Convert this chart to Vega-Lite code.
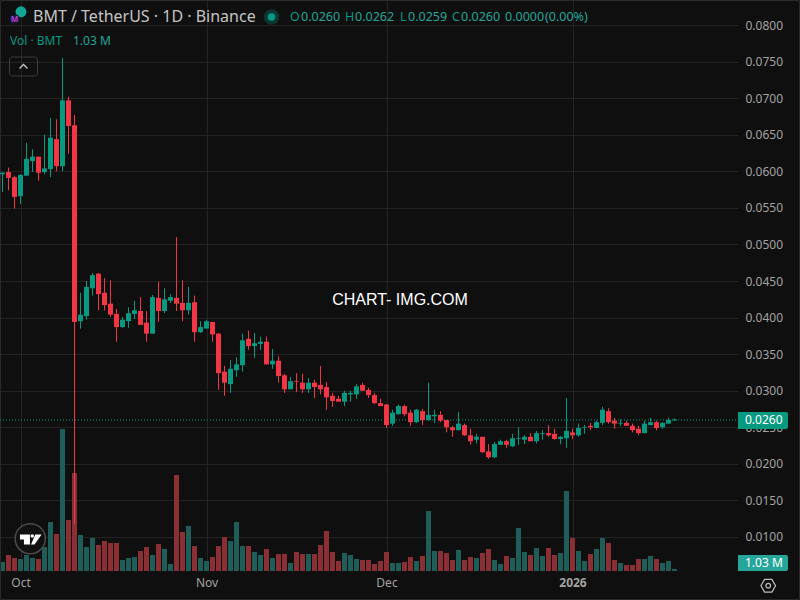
{
  "$schema": "https://vega.github.io/schema/vega-lite/v6.json",
  "description": "BMT / TetherUS daily candlesticks with volume",
  "width": 738,
  "height": 571,
  "autosize": {"type": "none"},
  "padding": {"left": 0, "top": 0, "right": 62, "bottom": 29},
  "background": "#0f0f0f",
  "config": {"view": {"stroke": null}, "text": {"font": "Noto Sans"}},
  "datasets": {
    "candles": [
      {"date":"2025-09-28","o":0.0596,"h":0.0599,"l":0.0572,"c":0.0598,"v":4.5},
      {"date":"2025-09-29","o":0.0599,"h":0.0605,"l":0.0574,"c":0.0591,"v":8},
      {"date":"2025-09-30","o":0.0592,"h":0.0594,"l":0.0549,"c":0.0565,"v":6.5},
      {"date":"2025-10-01","o":0.0566,"h":0.0596,"l":0.0555,"c":0.0595,"v":6},
      {"date":"2025-10-02","o":0.0594,"h":0.0639,"l":0.0594,"c":0.0617,"v":8},
      {"date":"2025-10-03","o":0.0614,"h":0.0630,"l":0.0599,"c":0.0620,"v":6.5},
      {"date":"2025-10-04","o":0.0620,"h":0.0620,"l":0.0587,"c":0.0598,"v":6},
      {"date":"2025-10-05","o":0.0599,"h":0.0650,"l":0.0596,"c":0.0604,"v":12},
      {"date":"2025-10-06","o":0.0603,"h":0.0673,"l":0.0592,"c":0.0646,"v":24.5},
      {"date":"2025-10-07","o":0.0644,"h":0.0671,"l":0.0600,"c":0.0607,"v":18.5},
      {"date":"2025-10-08","o":0.0607,"h":0.0755,"l":0.0600,"c":0.0697,"v":71},
      {"date":"2025-10-09","o":0.0697,"h":0.0702,"l":0.0624,"c":0.0662,"v":25.5},
      {"date":"2025-10-10","o":0.0663,"h":0.0677,"l":0.0118,"c":0.0394,"v":49},
      {"date":"2025-10-11","o":0.0395,"h":0.0434,"l":0.0385,"c":0.0404,"v":18},
      {"date":"2025-10-12","o":0.0402,"h":0.0450,"l":0.0397,"c":0.0442,"v":12},
      {"date":"2025-10-13","o":0.0440,"h":0.0461,"l":0.0430,"c":0.0458,"v":16.5},
      {"date":"2025-10-14","o":0.0460,"h":0.0461,"l":0.0410,"c":0.0432,"v":13},
      {"date":"2025-10-15","o":0.0434,"h":0.0454,"l":0.0410,"c":0.0417,"v":15},
      {"date":"2025-10-16","o":0.0419,"h":0.0451,"l":0.0401,"c":0.0404,"v":14},
      {"date":"2025-10-17","o":0.0405,"h":0.0412,"l":0.0367,"c":0.0387,"v":14},
      {"date":"2025-10-18","o":0.0387,"h":0.0401,"l":0.0386,"c":0.0397,"v":5.5},
      {"date":"2025-10-19","o":0.0395,"h":0.0414,"l":0.0386,"c":0.0406,"v":6.5},
      {"date":"2025-10-20","o":0.0405,"h":0.0423,"l":0.0398,"c":0.0410,"v":7},
      {"date":"2025-10-21","o":0.0409,"h":0.0428,"l":0.0390,"c":0.0390,"v":10},
      {"date":"2025-10-22","o":0.0393,"h":0.0409,"l":0.0367,"c":0.0378,"v":12},
      {"date":"2025-10-23","o":0.0378,"h":0.0431,"l":0.0378,"c":0.0428,"v":8},
      {"date":"2025-10-24","o":0.0427,"h":0.0449,"l":0.0394,"c":0.0409,"v":13.5},
      {"date":"2025-10-25","o":0.0409,"h":0.0440,"l":0.0406,"c":0.0425,"v":11},
      {"date":"2025-10-26","o":0.0423,"h":0.0432,"l":0.0420,"c":0.0428,"v":3.5},
      {"date":"2025-10-27","o":0.0427,"h":0.0510,"l":0.0409,"c":0.0419,"v":48},
      {"date":"2025-10-28","o":0.0420,"h":0.0451,"l":0.0395,"c":0.0410,"v":19.5},
      {"date":"2025-10-29","o":0.0410,"h":0.0442,"l":0.0404,"c":0.0420,"v":22.5},
      {"date":"2025-10-30","o":0.0421,"h":0.0430,"l":0.0367,"c":0.0380,"v":12.5},
      {"date":"2025-10-31","o":0.0380,"h":0.0395,"l":0.0379,"c":0.0387,"v":6.5},
      {"date":"2025-11-01","o":0.0385,"h":0.0397,"l":0.0385,"c":0.0395,"v":5},
      {"date":"2025-11-02","o":0.0394,"h":0.0394,"l":0.0367,"c":0.0377,"v":7},
      {"date":"2025-11-03","o":0.0378,"h":0.0379,"l":0.0301,"c":0.0324,"v":12.5},
      {"date":"2025-11-04","o":0.0326,"h":0.0334,"l":0.0293,"c":0.0311,"v":17},
      {"date":"2025-11-05","o":0.0309,"h":0.0342,"l":0.0297,"c":0.0330,"v":15},
      {"date":"2025-11-06","o":0.0328,"h":0.0346,"l":0.0319,"c":0.0336,"v":24.5},
      {"date":"2025-11-07","o":0.0335,"h":0.0378,"l":0.0326,"c":0.0369,"v":12.5},
      {"date":"2025-11-08","o":0.0371,"h":0.0382,"l":0.0356,"c":0.0361,"v":12.5},
      {"date":"2025-11-09","o":0.0361,"h":0.0379,"l":0.0345,"c":0.0365,"v":9.5},
      {"date":"2025-11-10","o":0.0364,"h":0.0374,"l":0.0356,"c":0.0367,"v":8},
      {"date":"2025-11-11","o":0.0367,"h":0.0374,"l":0.0336,"c":0.0336,"v":11},
      {"date":"2025-11-12","o":0.0336,"h":0.0357,"l":0.0330,"c":0.0341,"v":6.5},
      {"date":"2025-11-13","o":0.0341,"h":0.0347,"l":0.0311,"c":0.0320,"v":8.5},
      {"date":"2025-11-14","o":0.0321,"h":0.0323,"l":0.0297,"c":0.0302,"v":8.5},
      {"date":"2025-11-15","o":0.0302,"h":0.0319,"l":0.0302,"c":0.0313,"v":4},
      {"date":"2025-11-16","o":0.0313,"h":0.0324,"l":0.0298,"c":0.0312,"v":9.5},
      {"date":"2025-11-17","o":0.0311,"h":0.0323,"l":0.0297,"c":0.0302,"v":8.5},
      {"date":"2025-11-18","o":0.0302,"h":0.0317,"l":0.0297,"c":0.0311,"v":8.5},
      {"date":"2025-11-19","o":0.0311,"h":0.0315,"l":0.0290,"c":0.0305,"v":8.5},
      {"date":"2025-11-20","o":0.0308,"h":0.0334,"l":0.0295,"c":0.0302,"v":13},
      {"date":"2025-11-21","o":0.0305,"h":0.0312,"l":0.0274,"c":0.0291,"v":20},
      {"date":"2025-11-22","o":0.0293,"h":0.0297,"l":0.0278,"c":0.0286,"v":9.5},
      {"date":"2025-11-23","o":0.0289,"h":0.0293,"l":0.0285,"c":0.0285,"v":5},
      {"date":"2025-11-24","o":0.0285,"h":0.0300,"l":0.0279,"c":0.0297,"v":9},
      {"date":"2025-11-25","o":0.0295,"h":0.0300,"l":0.0285,"c":0.0297,"v":8},
      {"date":"2025-11-26","o":0.0295,"h":0.0309,"l":0.0289,"c":0.0306,"v":6},
      {"date":"2025-11-27","o":0.0308,"h":0.0311,"l":0.0300,"c":0.0300,"v":5.5},
      {"date":"2025-11-28","o":0.0301,"h":0.0304,"l":0.0290,"c":0.0294,"v":5.5},
      {"date":"2025-11-29","o":0.0294,"h":0.0297,"l":0.0282,"c":0.0283,"v":3.5},
      {"date":"2025-11-30","o":0.0283,"h":0.0289,"l":0.0279,"c":0.0279,"v":5},
      {"date":"2025-12-01","o":0.0281,"h":0.0282,"l":0.0249,"c":0.0253,"v":9.5},
      {"date":"2025-12-02","o":0.0255,"h":0.0274,"l":0.0252,"c":0.0270,"v":4},
      {"date":"2025-12-03","o":0.0268,"h":0.0281,"l":0.0267,"c":0.0279,"v":4},
      {"date":"2025-12-04","o":0.0279,"h":0.0281,"l":0.0265,"c":0.0268,"v":4.5},
      {"date":"2025-12-05","o":0.0270,"h":0.0274,"l":0.0252,"c":0.0257,"v":7},
      {"date":"2025-12-06","o":0.0257,"h":0.0275,"l":0.0256,"c":0.0274,"v":5},
      {"date":"2025-12-07","o":0.0272,"h":0.0275,"l":0.0253,"c":0.0260,"v":7.5},
      {"date":"2025-12-08","o":0.0260,"h":0.0311,"l":0.0259,"c":0.0267,"v":30},
      {"date":"2025-12-09","o":0.0265,"h":0.0274,"l":0.0256,"c":0.0267,"v":10},
      {"date":"2025-12-10","o":0.0267,"h":0.0272,"l":0.0257,"c":0.0259,"v":10},
      {"date":"2025-12-11","o":0.0260,"h":0.0260,"l":0.0243,"c":0.0250,"v":9},
      {"date":"2025-12-12","o":0.0250,"h":0.0252,"l":0.0237,"c":0.0246,"v":5.5},
      {"date":"2025-12-13","o":0.0246,"h":0.0271,"l":0.0246,"c":0.0255,"v":10.5},
      {"date":"2025-12-14","o":0.0253,"h":0.0255,"l":0.0238,"c":0.0239,"v":5.5},
      {"date":"2025-12-15","o":0.0239,"h":0.0248,"l":0.0226,"c":0.0231,"v":7},
      {"date":"2025-12-16","o":0.0233,"h":0.0241,"l":0.0228,"c":0.0237,"v":6.5},
      {"date":"2025-12-17","o":0.0237,"h":0.0237,"l":0.0215,"c":0.0216,"v":9},
      {"date":"2025-12-18","o":0.0217,"h":0.0227,"l":0.0207,"c":0.0209,"v":11},
      {"date":"2025-12-19","o":0.0209,"h":0.0230,"l":0.0208,"c":0.0227,"v":5.5},
      {"date":"2025-12-20","o":0.0226,"h":0.0233,"l":0.0226,"c":0.0231,"v":3.5},
      {"date":"2025-12-21","o":0.0231,"h":0.0233,"l":0.0222,"c":0.0226,"v":7.5},
      {"date":"2025-12-22","o":0.0224,"h":0.0241,"l":0.0223,"c":0.0235,"v":6.5},
      {"date":"2025-12-23","o":0.0234,"h":0.0250,"l":0.0226,"c":0.0235,"v":21.5},
      {"date":"2025-12-24","o":0.0233,"h":0.0239,"l":0.0227,"c":0.0237,"v":9.5},
      {"date":"2025-12-25","o":0.0237,"h":0.0242,"l":0.0231,"c":0.0231,"v":8},
      {"date":"2025-12-26","o":0.0231,"h":0.0245,"l":0.0228,"c":0.0242,"v":11.5},
      {"date":"2025-12-27","o":0.0241,"h":0.0246,"l":0.0233,"c":0.0242,"v":7.5},
      {"date":"2025-12-28","o":0.0242,"h":0.0253,"l":0.0237,"c":0.0239,"v":11.5},
      {"date":"2025-12-29","o":0.0241,"h":0.0248,"l":0.0233,"c":0.0234,"v":8},
      {"date":"2025-12-30","o":0.0234,"h":0.0238,"l":0.0227,"c":0.0237,"v":9},
      {"date":"2025-12-31","o":0.0235,"h":0.0290,"l":0.0222,"c":0.0245,"v":40},
      {"date":"2026-01-01","o":0.0243,"h":0.0248,"l":0.0234,"c":0.0239,"v":16.5},
      {"date":"2026-01-02","o":0.0239,"h":0.0255,"l":0.0237,"c":0.0249,"v":10},
      {"date":"2026-01-03","o":0.0249,"h":0.0253,"l":0.0241,"c":0.0250,"v":5},
      {"date":"2026-01-04","o":0.0252,"h":0.0256,"l":0.0246,"c":0.0250,"v":8.5},
      {"date":"2026-01-05","o":0.0249,"h":0.0259,"l":0.0249,"c":0.0257,"v":11},
      {"date":"2026-01-06","o":0.0256,"h":0.0278,"l":0.0253,"c":0.0274,"v":16.5},
      {"date":"2026-01-07","o":0.0272,"h":0.0276,"l":0.0255,"c":0.0257,"v":14},
      {"date":"2026-01-08","o":0.0259,"h":0.0263,"l":0.0248,"c":0.0255,"v":5.5},
      {"date":"2026-01-09","o":0.0255,"h":0.0261,"l":0.0252,"c":0.0256,"v":4},
      {"date":"2026-01-10","o":0.0256,"h":0.0259,"l":0.0252,"c":0.0252,"v":3},
      {"date":"2026-01-11","o":0.0252,"h":0.0255,"l":0.0243,"c":0.0246,"v":3},
      {"date":"2026-01-12","o":0.0248,"h":0.0252,"l":0.0239,"c":0.0242,"v":6},
      {"date":"2026-01-13","o":0.0242,"h":0.0259,"l":0.0242,"c":0.0255,"v":6},
      {"date":"2026-01-14","o":0.0253,"h":0.0263,"l":0.0253,"c":0.0257,"v":7.5},
      {"date":"2026-01-15","o":0.0257,"h":0.0259,"l":0.0246,"c":0.0249,"v":6},
      {"date":"2026-01-16","o":0.0250,"h":0.0257,"l":0.0248,"c":0.0256,"v":4},
      {"date":"2026-01-17","o":0.0255,"h":0.0263,"l":0.0255,"c":0.0260,"v":5},
      {"date":"2026-01-18","o":0.0260,"h":0.0262,"l":0.0259,"c":0.0260,"v":1.03}
    ]
  },
  "encoding": {
    "x": {
      "field": "date",
      "type": "temporal",
      "title": null,
      "scale": {
        "type": "utc",
        "nice": false,
        "padding": 0,
        "domain": [
          {"year": 2025, "month": 9, "date": 27, "hours": 14, "utc": true},
          {"year": 2026, "month": 1, "date": 28, "hours": 14, "utc": true}
        ]
      },
      "axis": {
        "values": [
          {"year": 2025, "month": 10, "date": 1, "utc": true},
          {"year": 2025, "month": 11, "date": 1, "utc": true},
          {"year": 2025, "month": 12, "date": 1, "utc": true},
          {"year": 2026, "month": 1, "date": 1, "utc": true}
        ],
        "labelExpr": "utcyear(datum.value) == 2026 ? '2026' : utcFormat(datum.value, '%b')",
        "labelFontWeight": {"condition": {"test": "utcyear(datum.value) == 2026", "value": "bold"}, "value": "normal"},
        "labelFont": "Noto Sans",
        "labelFontSize": 12,
        "labelColor": "#a3a3a3",
        "labelPadding": 6,
        "labelFlush": false,
        "domain": false,
        "ticks": false,
        "grid": true,
        "gridColor": "#232323"
      }
    }
  },
  "layer": [
    {
      "data": {"name": "candles"},
      "mark": {"type": "bar", "size": 5},
      "encoding": {
        "y": {"field": "v", "type": "quantitative", "stack": null, "axis": null, "scale": {"domain": [0, 285.5], "nice": false}},
        "color": {"condition": {"test": "datum.c >= datum.o", "value": "#1f5d58"}, "value": "#8a3035"}
      }
    },
    {
      "layer": [
        {
          "data": {
            "values": [{"date": "2025-09-27T16:00:00Z", "date2": "2026-02-07T20:00:00Z", "p": 0.08335, "p2": 0.00145}],
            "format": {"parse": {"date": "date", "date2": "date"}}
          },
          "mark": {"type": "rect", "fillOpacity": 0, "stroke": "#2b2b2b", "strokeWidth": 1},
          "encoding": {
            "x2": {"field": "date2"},
            "y": {"field": "p", "type": "quantitative"},
            "y2": {"field": "p2"}
          }
        },
        {
          "data": {
            "values": [{"date": "2025-09-27T14:00:00Z", "date2": "2026-01-28T14:00:00Z", "p": 0.026}],
            "format": {"parse": {"date": "date", "date2": "date"}}
          },
          "mark": {"type": "rule", "color": "#089981", "strokeWidth": 1, "strokeDash": [1, 2]},
          "encoding": {
            "x2": {"field": "date2"},
            "y": {"field": "p", "type": "quantitative"}
          }
        },
        {
          "data": {"name": "candles"},
          "mark": {"type": "rule", "strokeWidth": 1},
          "encoding": {
            "y": {
              "field": "l",
              "type": "quantitative",
              "title": null,
              "scale": {"domain": [0.00535, 0.08342], "nice": false, "zero": false},
              "axis": {
                "orient": "right",
                "values": [0.01, 0.015, 0.02, 0.025, 0.03, 0.035, 0.04, 0.045, 0.05, 0.055, 0.06, 0.065, 0.07, 0.075, 0.08],
                "format": ".4f",
                "labelFont": "Noto Sans",
                "labelFontSize": 12,
                "labelColor": "#a3a3a3",
                "labelPadding": 7,
                "domain": false,
                "ticks": false,
                "grid": true,
                "gridColor": "#232323"
              }
            },
            "y2": {"field": "h"},
            "color": {"condition": {"test": "datum.c >= datum.o", "value": "#089981"}, "value": "#f23645"}
          }
        },
        {
          "data": {"name": "candles"},
          "mark": {"type": "bar", "size": 5},
          "encoding": {
            "y": {"field": "o", "type": "quantitative"},
            "y2": {"field": "c"},
            "color": {"condition": {"test": "datum.c >= datum.o", "value": "#089981"}, "value": "#f23645"}
          }
        },
        {
          "data": {"name": "candles"},
          "transform": [{"filter": "datum.o == datum.c"}],
          "mark": {"type": "tick", "orient": "horizontal", "size": 5, "thickness": 1, "color": "#089981", "opacity": 1},
          "encoding": {"y": {"field": "c", "type": "quantitative"}}
        },
        {
          "data": {
            "values": [
              {"date": "2026-01-28T14:00:00Z", "date2": "2026-02-05T22:00:00Z", "p": 0.02709, "p2": 0.02476, "tag": "price"},
              {"date": "2026-01-28T14:00:00Z", "date2": "2026-02-05T22:00:00Z", "p": 0.00754, "p2": 0.00535, "tag": "volume"}
            ],
            "format": {"parse": {"date": "date", "date2": "date"}}
          },
          "mark": {"type": "rect", "cornerRadiusTopRight": 2, "cornerRadiusBottomRight": 2},
          "encoding": {
            "x2": {"field": "date2"},
            "y": {"field": "p", "type": "quantitative"},
            "y2": {"field": "p2"},
            "color": {"field": "tag", "type": "nominal", "legend": null, "scale": {"domain": ["price", "volume"], "range": ["#089981", "#26a69a"]}}
          }
        },
        {
          "data": {
            "values": [
              {"date": "2026-01-29T18:00:00Z", "p": 0.026, "label": "0.0260"},
              {"date": "2026-01-29T18:00:00Z", "p": 0.00644, "label": "1.03 M"}
            ],
            "format": {"parse": {"date": "date"}}
          },
          "mark": {"type": "text", "align": "left", "baseline": "middle", "fontSize": 12, "color": "#ffffff"},
          "encoding": {
            "y": {"field": "p", "type": "quantitative"},
            "text": {"field": "label"}
          }
        },
        {
          "data": {
            "values": [{"date": "2025-10-03T02:00:00Z", "p": 0.0811, "label": "BMT / TetherUS · 1D · Binance"}],
            "format": {"parse": {"date": "date"}}
          },
          "mark": {"type": "text", "align": "left", "baseline": "middle", "fontSize": 16, "color": "#c4c4c4"},
          "encoding": {
            "y": {"field": "p", "type": "quantitative"},
            "text": {"field": "label"}
          }
        },
        {
          "data": {
            "values": [
              {"date": "2025-11-14T22:00:00Z", "p": 0.0811, "label": "O", "kind": "name"},
              {"date": "2025-11-16T18:00:00Z", "p": 0.0811, "label": "0.0260", "kind": "value"},
              {"date": "2025-11-24T02:00:00Z", "p": 0.0811, "label": "H", "kind": "name"},
              {"date": "2025-11-25T18:00:00Z", "p": 0.0811, "label": "0.0262", "kind": "value"},
              {"date": "2025-12-03T06:00:00Z", "p": 0.0811, "label": "L", "kind": "name"},
              {"date": "2025-12-04T14:00:00Z", "p": 0.0811, "label": "0.0259", "kind": "value"},
              {"date": "2025-12-11T22:00:00Z", "p": 0.0811, "label": "C", "kind": "name"},
              {"date": "2025-12-13T10:00:00Z", "p": 0.0811, "label": "0.0260", "kind": "value"},
              {"date": "2025-12-20T18:00:00Z", "p": 0.0811, "label": "0.0000", "kind": "value"},
              {"date": "2025-12-27T10:00:00Z", "p": 0.0811, "label": "(0.00%)", "kind": "value"}
            ],
            "format": {"parse": {"date": "date"}}
          },
          "mark": {"type": "text", "align": "left", "baseline": "middle", "fontSize": 12.5},
          "encoding": {
            "y": {"field": "p", "type": "quantitative"},
            "text": {"field": "label"},
            "color": {"field": "kind", "type": "nominal", "legend": null, "scale": {"domain": ["name", "value"], "range": ["#b8b8b8", "#089981"]}}
          }
        },
        {
          "data": {
            "values": [
              {"date": "2025-09-29T06:00:00Z", "p": 0.07781, "label": "Vol · BMT", "kind": "name"},
              {"date": "2025-10-09T18:00:00Z", "p": 0.07781, "label": "1.03 M", "kind": "value"}
            ],
            "format": {"parse": {"date": "date"}}
          },
          "mark": {"type": "text", "align": "left", "baseline": "middle", "fontSize": 12},
          "encoding": {
            "y": {"field": "p", "type": "quantitative"},
            "text": {"field": "label"},
            "color": {"field": "kind", "type": "nominal", "legend": null, "scale": {"domain": ["name", "value"], "range": ["#b8b8b8", "#089981"]}}
          }
        },
        {
          "data": {
            "values": [{"date": "2025-12-03T06:00:00Z", "p": 0.0424, "label": "CHART- IMG.COM"}],
            "format": {"parse": {"date": "date"}}
          },
          "mark": {"type": "text", "align": "center", "baseline": "middle", "font": "Liberation Sans", "fontSize": 16, "color": "#ffffff"},
          "encoding": {
            "y": {"field": "p", "type": "quantitative"},
            "text": {"field": "label"}
          }
        },
        {
          "data": {
            "values": [{"date": "2025-09-29T04:00:00Z", "date2": "2025-10-03T20:00:00Z", "p": 0.07562, "p2": 0.07303}],
            "format": {"parse": {"date": "date", "date2": "date"}}
          },
          "mark": {"type": "rect", "fillOpacity": 0, "stroke": "#3d3d3d", "strokeWidth": 1, "cornerRadius": 3},
          "encoding": {
            "x2": {"field": "date2"},
            "y": {"field": "p", "type": "quantitative"},
            "y2": {"field": "p2"}
          }
        },
        {
          "data": {
            "values": [{"date": "2025-10-01T12:00:00Z", "p": 0.07433}],
            "format": {"parse": {"date": "date"}}
          },
          "mark": {"type": "point", "shape": "M-1,.5L0,-.5L1,.5", "size": 64, "filled": false, "stroke": "#c8c8c8", "strokeWidth": 1.3, "opacity": 1},
          "encoding": {"y": {"field": "p", "type": "quantitative"}}
        },
        {
          "data": {
            "values": [{"date": "2025-11-11T20:00:00Z", "p": 0.0811}],
            "format": {"parse": {"date": "date"}}
          },
          "mark": {"type": "point", "shape": "circle", "size": 240, "filled": true, "color": "#0b3530", "opacity": 1},
          "encoding": {"y": {"field": "p", "type": "quantitative"}}
        },
        {
          "data": {
            "values": [{"date": "2025-11-11T20:00:00Z", "p": 0.0811}],
            "format": {"parse": {"date": "date"}}
          },
          "mark": {"type": "point", "shape": "circle", "size": 58, "filled": true, "color": "#089981", "opacity": 1},
          "encoding": {"y": {"field": "p", "type": "quantitative"}}
        },
        {
          "data": {
            "values": [{"date": "2025-10-01T02:00:00Z", "p": 0.0818}],
            "format": {"parse": {"date": "date"}}
          },
          "mark": {"type": "point", "shape": "circle", "size": 120, "filled": true, "color": "#12a594", "opacity": 1},
          "encoding": {"y": {"field": "p", "type": "quantitative"}}
        },
        {
          "data": {
            "values": [{"date": "2025-09-30T00:00:00Z", "p": 0.0808}],
            "format": {"parse": {"date": "date"}}
          },
          "mark": {"type": "point", "shape": "circle", "size": 110, "filled": true, "color": "#161629", "opacity": 1},
          "encoding": {"y": {"field": "p", "type": "quantitative"}}
        },
        {
          "data": {
            "values": [{"date": "2025-09-30T00:00:00Z", "p": 0.0807, "label": "M"}],
            "format": {"parse": {"date": "date"}}
          },
          "mark": {"type": "text", "align": "center", "baseline": "middle", "fontSize": 8, "fontWeight": "bold", "color": "#b03fe0"},
          "encoding": {
            "y": {"field": "p", "type": "quantitative"},
            "text": {"field": "label"}
          }
        },
        {
          "data": {
            "values": [{"date": "2025-10-02T15:00:00Z", "p": 0.00976}],
            "format": {"parse": {"date": "date"}}
          },
          "mark": {"type": "point", "shape": "circle", "size": 908, "filled": true, "fill": "#111111", "stroke": "#4a4a4a", "strokeWidth": 1.5, "opacity": 1},
          "encoding": {"y": {"field": "p", "type": "quantitative"}}
        },
        {
          "data": {
            "values": [{"date": "2025-10-02T15:00:00Z", "p": 0.00976}],
            "format": {"parse": {"date": "date"}}
          },
          "mark": {
            "type": "point",
            "shape": "M-1.03,-.43H-.03V.57H-.63V.07H-1.03ZM.37,-.27A.17,.17,0,1,1,.03,-.27A.17,.17,0,1,1,.37,-.27ZM.5,-.43H1.13L.43,.57H.08Z",
            "size": 400,
            "filled": true,
            "color": "#ffffff",
            "opacity": 1
          },
          "encoding": {"y": {"field": "p", "type": "quantitative"}}
        },
        {
          "data": {
            "values": [{"date": "2026-02-02T15:00:00Z", "p": 0.00334}],
            "format": {"parse": {"date": "date"}}
          },
          "mark": {"type": "point", "shape": "M-1,0L-.5,-.87H.5L1,0L.5,.87H-.5Z", "size": 213, "filled": false, "stroke": "#c0c0c0", "strokeWidth": 1.2, "opacity": 1},
          "encoding": {"y": {"field": "p", "type": "quantitative"}}
        },
        {
          "data": {
            "values": [{"date": "2026-02-02T15:00:00Z", "p": 0.00334}],
            "format": {"parse": {"date": "date"}}
          },
          "mark": {"type": "point", "shape": "circle", "size": 22, "filled": false, "stroke": "#c0c0c0", "strokeWidth": 1.2, "opacity": 1},
          "encoding": {"y": {"field": "p", "type": "quantitative"}}
        }
      ]
    }
  ],
  "resolve": {"scale": {"y": "independent"}}
}
